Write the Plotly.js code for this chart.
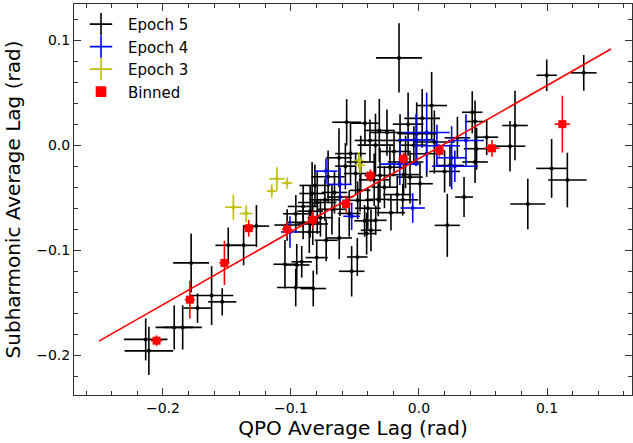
<!DOCTYPE html>
<html>
<head>
<meta charset="utf-8">
<script src="https://cdn.plot.ly/plotly-3.0.1.min.js"></script>
<style>html,body{margin:0;padding:0;background:#fff}#chart{width:633px;height:443px}</style>
</head>
<body>
<div id="chart"></div>
<script>
// Epoch 5 (black)
const x5 = [0.0998,0.1287,0.075,0.0711,0.1036,0.1159,0.085,0.0352,0.0416,0.0438,0.0529,-0.0156,
  -0.2135,-0.211,-0.1912,-0.1846,-0.178,-0.173,-0.162,-0.1537,-0.149,-0.137,-0.127,-0.1047,-0.0955,-0.0916,
  -0.0963,-0.0826,-0.0799,-0.0623,-0.0526,-0.0482,-0.0857,-0.0338,-0.0375,-0.0409,-0.0219,0.0221,-0.0127,
  -0.0318,-0.0479,-0.0565,-0.0422,0.0099,-0.0813,-0.0905,-0.085,-0.0795,-0.083,-0.077,-0.0725,-0.068,
  -0.0905,-0.0962,-0.0625,-0.0575,-0.0535,-0.0495,-0.0455,-0.0383,-0.034,-0.0148,-0.0018,0.006,-0.0227,
  -0.0305,-0.007,0.0008,-0.046,-0.0617,0.0242,0.045,0.0438,-0.025,-0.0195,-0.0105,-0.004,0.012,-0.027,
  -0.017,-0.04,-0.035,-0.071,-0.066,-0.0545,-0.0085,0.0025,-0.031,0.03,0.02,-0.0425,-0.0735,-0.0835,-0.012,-0.103];
const y5 = [0.0665,0.0688,0.0187,-0.001,-0.0221,-0.0332,-0.056,-0.0494,0.0313,0.0225,0.0076,0.083,
  -0.1848,-0.1957,-0.1734,-0.1734,-0.112,-0.155,-0.1431,-0.1491,-0.0953,-0.0953,-0.077,-0.1133,-0.114,-0.111,
  -0.1354,-0.1364,-0.107,-0.0883,-0.12,-0.1064,-0.0826,-0.0715,-0.081,-0.0841,-0.0642,-0.0763,-0.052,
  -0.0516,-0.0525,0.0218,0.0209,0.0377,-0.0383,-0.0583,-0.0628,-0.0545,-0.075,-0.069,-0.0905,-0.061,
  -0.0735,-0.0653,-0.012,-0.02,-0.008,-0.027,-0.016,0.0045,0.0,0.0045,0.0108,-0.0082,-0.021,
  -0.0288,-0.0304,-0.0367,-0.043,-0.0494,-0.0193,-0.0034,-0.016,0.012,-0.006,-0.016,0.0,0.003,-0.04,
  -0.047,-0.06,-0.033,-0.03,-0.045,-0.065,0.02,0.0255,0.014,0.007,-0.025,-0.072,-0.052,-0.046,-0.028,-0.076];
const ex5 = [0.008,0.010,0.010,0.012,0.012,0.015,0.0137,0.007,0.008,0.008,0.009,0.018,
  0.017,0.019,0.0146,0.015,0.014,0.011,0.017,0.011,0.010,0.010,0.010,0.009,0.010,0.008,
  0.0146,0.010,0.0087,0.010,0.010,0.008,0.009,0.0085,0.008,0.007,0.011,0.0098,0.012,
  0.010,0.012,0.0113,0.0107,0.012,0.012,0.012,0.010,0.015,0.012,0.010,0.009,0.011,
  0.013,0.010,0.010,0.008,0.012,0.009,0.011,0.012,0.014,0.012,0.015,0.013,0.010,
  0.012,0.010,0.010,0.008,0.010,0.011,0.010,0.010,0.013,0.012,0.014,0.010,0.016,0.010,
  0.011,0.010,0.012,0.013,0.010,0.009,0.012,0.014,0.012,0.010,0.012,0.008,0.012,0.010,0.012,0.010];
const ey5 = [0.015,0.017,0.033,0.024,0.028,0.026,0.024,0.019,0.020,0.020,0.017,0.033,
  0.020,0.023,0.021,0.021,0.028,0.014,0.028,0.013,0.017,0.019,0.020,0.023,0.020,0.015,
  0.018,0.017,0.016,0.020,0.024,0.018,0.020,0.014,0.020,0.020,0.017,0.030,0.015,
  0.016,0.018,0.022,0.022,0.032,0.020,0.020,0.025,0.030,0.020,0.018,0.020,0.024,
  0.016,0.018,0.028,0.022,0.030,0.020,0.025,0.020,0.030,0.025,0.030,0.022,0.020,
  0.026,0.025,0.020,0.020,0.018,0.020,0.020,0.020,0.022,0.020,0.025,0.018,0.030,0.020,
  0.018,0.020,0.025,0.025,0.020,0.022,0.030,0.028,0.030,0.020,0.020,0.015,0.020,0.030,0.020,0.015];

// Epoch 4 (blue)
const x4 = [-0.0727,-0.0617,-0.0526,-0.1008,-0.0049,0.006,0.0255,0.0367,0.014,-0.015,0.028,-0.0023];
const y4 = [-0.0247,-0.0373,-0.0677,-0.0826,-0.0598,0.012,-0.012,0.0045,-0.0005,-0.018,-0.02,0.005];
const ex4 = [0.009,0.009,0.0065,0.007,0.0095,0.018,0.012,0.014,0.018,0.015,0.018,0.014];
const ey4 = [0.012,0.016,0.013,0.015,0.014,0.038,0.030,0.025,0.020,0.020,0.015,0.025];

// Epoch 3 (olive/yellow)
const x3 = [-0.145,-0.135,-0.115,-0.111,-0.103,-0.047,-0.046];
const y3 = [-0.059,-0.065,-0.0437,-0.032,-0.036,-0.0145,-0.019];
const ex3 = [0.0065,0.005,0.004,0.006,0.004,0.004,0.004];
const ey3 = [0.012,0.008,0.0063,0.011,0.0055,0.008,0.008];

// Binned (red)
const xb = [-0.205,-0.179,-0.152,-0.133,-0.103,-0.083,-0.057,-0.038,-0.012,0.016,0.057,0.112];
const yb = [-0.186,-0.147,-0.112,-0.079,-0.080,-0.071,-0.056,-0.029,-0.013,-0.005,-0.003,0.020];
const exb = [0.0045,0.004,0.004,0.004,0.004,0.004,0.004,0.004,0.004,0.004,0.006,0.006];
const eyb = [0.005,0.018,0.021,0.008,0.008,0.008,0.008,0.006,0.006,0.006,0.008,0.027];

// Fit line
const xfit = [-0.25, 0.15];
const yfit = [-0.1865, 0.0915];

const names = ['Epoch 5','Epoch 4','Epoch 3','Binned'];

function errTrace(x, y, ex, ey, color, msize, symbol) {
  return {
    x: x, y: y, type: 'scatter', mode: 'markers', showlegend: false,
    marker: {color: color, size: msize, symbol: symbol},
    error_x: {type: 'data', array: ex, visible: true, color: color, thickness: 1.6, width: 0},
    error_y: {type: 'data', array: ey, visible: true, color: color, thickness: 1.6, width: 0},
    hoverinfo: 'skip'
  };
}
function legendTrace(name, color, symbol, size) {
  return {
    x: [null], y: [null], type: 'scatter', mode: 'markers', name: name, showlegend: true,
    marker: {color: color, size: size, symbol: symbol, line: {color: color, width: 1.6}}
  };
}

const data = [
  errTrace(x5, y5, ex5, ey5, '#000000', 4, 'circle'),
  errTrace(x4, y4, ex4, ey4, '#0000ff', 4, 'circle'),
  errTrace(x3, y3, ex3, ey3, '#bfbf00', 4, 'circle'),
  {x: xfit, y: yfit, type: 'scatter', mode: 'lines', showlegend: false,
   line: {color: '#ff0000', width: 1.6}, hoverinfo: 'skip'},
  errTrace(xb, yb, exb, eyb, '#ff0000', 8, 'square'),
  legendTrace(names[0], '#000000', 'cross-thin', 17),
  legendTrace(names[1], '#0000ff', 'cross-thin', 17),
  legendTrace(names[2], '#bfbf00', 'cross-thin', 17),
  legendTrace(names[3], '#ff0000', 'square', 9)
];

const axisCommon = {
  showgrid: false, zeroline: false, showline: true, linecolor: '#333', linewidth: 1,
  ticks: 'inside', ticklen: 7, tickwidth: 1, tickcolor: '#333', mirror: 'allticks',
  dtick: 0.1, tickformat: '.1f',
  tickfont: {family: 'DejaVu Sans', size: 14, color: '#000'},
  minor: {ticks: 'inside', ticklen: 4, tickwidth: 1, tickcolor: '#333', dtick: 0.02, showgrid: false}
};

const layout = {
  width: 633, height: 443,
  margin: {l: 74, r: 1, t: 4, b: 48},
  paper_bgcolor: '#fff', plot_bgcolor: '#fff',
  font: {family: 'DejaVu Sans', color: '#000'},
  xaxis: Object.assign({}, axisCommon, {
    range: [-0.2695, 0.1664], tick0: 0,
    title: {text: 'QPO Average Lag (rad)', font: {family: 'DejaVu Sans', size: 20}, standoff: 6}
  }),
  yaxis: Object.assign({}, axisCommon, {
    range: [-0.2377, 0.1343], tick0: 0,
    title: {text: 'Subharmonic Average Lag (rad)', font: {family: 'DejaVu Sans', size: 20}, standoff: 10}
  }),
  legend: {x: 0.0, y: 0.99, xanchor: 'left', yanchor: 'top', bgcolor: 'rgba(0,0,0,0)',
           font: {family: 'DejaVu Sans', size: 15}, tracegroupgap: 0, itemwidth: 44},
  showlegend: true
};

Plotly.newPlot('chart', data, layout, {staticPlot: true, displayModeBar: false});
</script>
</body>
</html>
